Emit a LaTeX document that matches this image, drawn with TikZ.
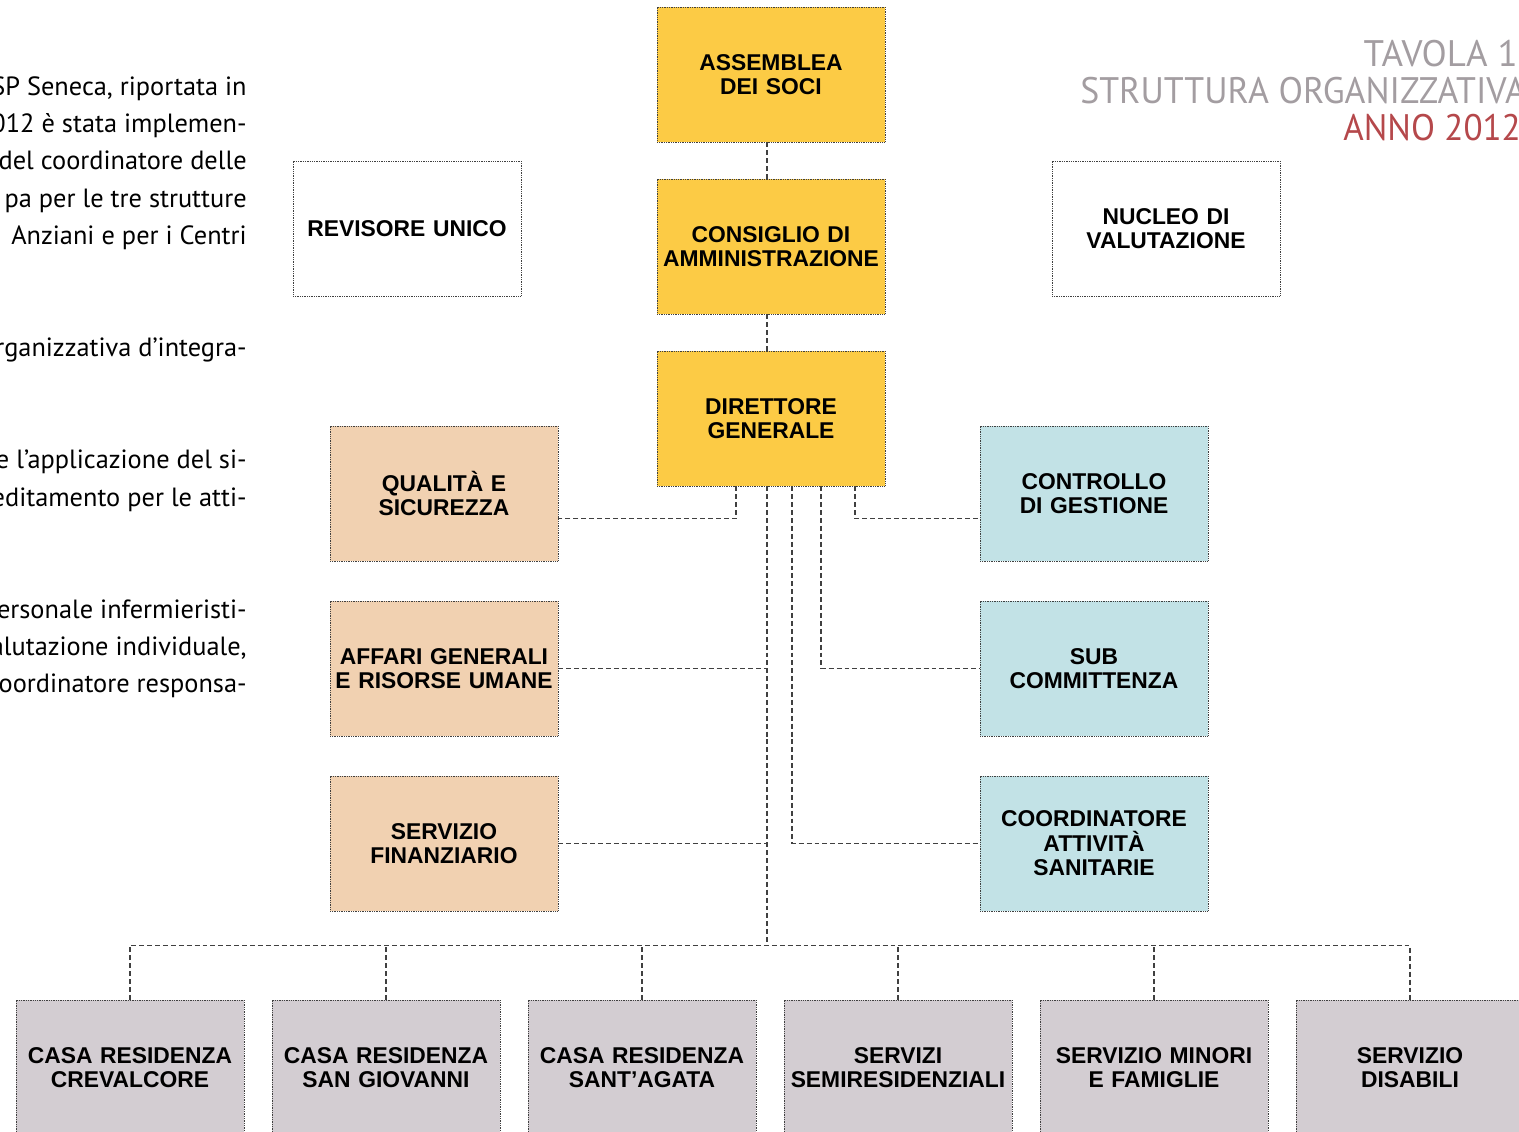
\documentclass[tikz,border=0pt]{standalone}
\usepackage{fontspec}
\setmainfont{Liberation Sans}
\newfontfamily\bodyfont{PT Sans}
\usetikzlibrary{positioning,calc}
\definecolor{sociocolor}{RGB}{252,203,69}
\definecolor{staffcolor}{RGB}{241,209,177}
\definecolor{supportocolor}{RGB}{194,226,230}
\definecolor{serviziocolor}{RGB}{211,205,210}
\definecolor{titlegray}{RGB}{163,157,161}
\definecolor{titlered}{RGB}{181,72,75}
\tikzset{
	block/.style={
		rectangle,
		draw=black!75,
		line width=0.5pt,
		dash pattern=on 0.5pt off 0.5pt,
		fill=white,
		minimum width=4.56cm,
		minimum height=2.7cm,
		text width=4.5cm,
		inner sep=0pt,
		align=center,
		font=\fontsize{13}{14}\selectfont\bfseries
	},
	socio/.style={block, fill=sociocolor},
	staff/.style={block, fill=staffcolor},
	supporto/.style={block, fill=supportocolor},
	servizio/.style={block, fill=serviziocolor},
	link/.style={
		draw=black!75,
		line width=0.6pt,
		dash pattern=on 2.8pt off 1.7pt
	},
	bodytext/.style={
		anchor=base east,
		inner sep=0pt,
		font=\bodyfont\fontsize{15}{18}\selectfont
	},
	titolo/.style={
		inner sep=0pt,
		text=titlegray,
		font=\bodyfont\fontsize{21}{24}\selectfont
	},
}

\begin{document}
\begin{tikzpicture}[node distance=3.44cm,on grid]
	\useasboundingbox (0,0) rectangle (30.38,-22.64);
	\clip (0,0) rectangle (30.38,-22.64);
	% testo a margine
	\node[bodytext] (t1) at (4.94,-1.92) {SP Seneca, riportata in};
	\node[bodytext] (t2) at (4.94,-2.66) {012 è stata implemen-};
	\node[bodytext] (t3) at (4.94,-3.40) {del coordinatore delle};
	\node[bodytext] (t4) at (4.94,-4.16) {pa per le tre strutture};
	\node[bodytext] (t5) at (4.94,-4.90) {Anziani e per i Centri};
	\node[bodytext] (t6) at (4.94,-7.14) {rganizzativa d’integra-};
	\node[bodytext] (t7) at (4.94,-9.38) {e l’applicazione del si-};
	\node[bodytext] (t8) at (4.94,-10.14) {editamento per le atti-};
	\node[bodytext] (t9) at (4.94,-12.38) {personale infermieristi-};
	\node[bodytext] (t10) at (4.94,-13.12) {alutazione individuale,};
	\node[bodytext] (t11) at (4.94,-13.86) {Coordinatore responsa-};
	% titolo
	\node[titolo,anchor=base east] (tavola) at (30.36,-1.34) {TAVOLA 1};
	\node[titolo,anchor=base west] (struttura) at (21.6,-2.08) {\scalebox{0.97}[1]{STRUTTURA ORGANIZZATIVA}};
	\node[titolo,anchor=base west,text=titlered] (anno) at (26.86,-2.82) {\scalebox{0.95}[1]{ANNO 2012}};
	% vertice
	\node[socio] (assemblea) at (15.42,-1.49) {ASSEMBLEA\\DEI SOCI};
	\node[socio] (consiglio) [below=of assemblea] {CONSIGLIO DI\\AMMINISTRAZIONE};
	\node[socio] (direttore) [below=of consiglio] {DIRETTORE\\GENERALE};
	\node[block] (revisore) at (8.14,-4.57) {REVISORE UNICO};
	\node[block] (nucleo) at (23.32,-4.57) {NUCLEO DI\\VALUTAZIONE};
	% staff
	\node[staff] (qualita) at (8.88,-9.87) {QUALITÀ E\\SICUREZZA};
	\node[staff] (affari) [below=3.5cm of qualita] {AFFARI GENERALI\\E RISORSE UMANE};
	\node[staff] (finanziario) [below=3.5cm of affari] {SERVIZIO\\FINANZIARIO};
	\node[supporto] (controllo) at (21.88,-9.87) {CONTROLLO\\DI GESTIONE};
	\node[supporto] (sub) [below=3.5cm of controllo] {SUB\\COMMITTENZA};
	\node[supporto] (coordinatore) [below=3.5cm of sub] {COORDINATORE\\ATTIVITÀ\\SANITARIE};
	% servizi
	\node[servizio] (crevalcore) at (2.6,-21.35) {CASA RESIDENZA\\CREVALCORE};
	\node[servizio] (sangiovanni) [right=5.12cm of crevalcore] {CASA RESIDENZA\\SAN GIOVANNI};
	\node[servizio] (santagata) [right=5.12cm of sangiovanni] {CASA RESIDENZA\\SANT’AGATA};
	\node[servizio] (semiresidenziali) [right=5.12cm of santagata] {SERVIZI\\SEMIRESIDENZIALI};
	\node[servizio] (minori) [right=5.12cm of semiresidenziali] {SERVIZIO MINORI\\E FAMIGLIE};
	\node[servizio] (disabili) [right=5.12cm of minori] {SERVIZIO\\DISABILI};

	\coordinate (trunk) at ([xshift=-0.08cm]direttore.south);
	\coordinate (bus) at ($(crevalcore.north -| trunk)+(0,1.08)$);
	\path[link]
	([xshift=-0.08cm]assemblea.south) edge ([xshift=-0.08cm]consiglio.north)
	([xshift=-0.08cm]consiglio.south) edge ([xshift=-0.08cm]direttore.north)
	(trunk) edge (bus)
	(affari.east) edge (affari.east -| trunk)
	(finanziario.east) edge (finanziario.east -| trunk)
	(sangiovanni.north) edge (sangiovanni.north |- bus)
	(santagata.north) edge (santagata.north |- bus)
	(semiresidenziali.north) edge (semiresidenziali.north |- bus)
	(minori.north) edge (minori.north |- bus)
	;
	\draw[link] ([xshift=-0.7cm]direttore.south) |- ([yshift=-0.5cm]qualita.east);
	\draw[link] ([xshift=1.68cm]direttore.south) |- ([yshift=-0.5cm]controllo.west);
	\draw[link] ([xshift=1cm]direttore.south) |- (sub.west);
	\draw[link] ([xshift=0.42cm]direttore.south) |- (coordinatore.west);
	\draw[link] (crevalcore.north) |- (bus) -| (disabili.north);
\end{tikzpicture}
\end{document}
